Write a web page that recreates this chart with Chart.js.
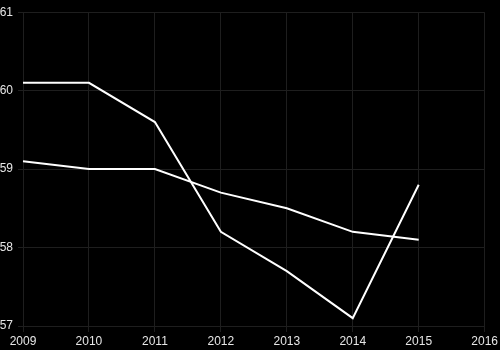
<!DOCTYPE html>
<html>
<head>
<meta charset="utf-8">
<script src="https://cdn.jsdelivr.net/npm/chart.js@4/dist/chart.umd.min.js"></script>
<style>
  html,body{margin:0;padding:0;background:#000;}
  #wrap{width:500px;height:350px;position:relative;}
</style>
</head>
<body>
<div id="wrap"><canvas id="grafico"></canvas></div>
<script>
// dados
const anos=['2009','2010','2011','2012','2013','2014','2015','2016'];
const serieA=[60.1,60.1,59.6,58.2,57.7,57.1,58.8,null];
const serieB=[59.1,59.0,59.0,58.7,58.5,58.2,58.1,null];
const ticksY=[57,58,59,60,61];

Chart.defaults.font.family="'Liberation Sans', Arial, sans-serif";
Chart.defaults.font.size=12;
Chart.defaults.color='#e6e6e6';

const linha=(d)=>({data:d,borderColor:'#ffffff',borderWidth:2,pointRadius:0,tension:0,fill:false,spanGaps:false});

new Chart(document.getElementById('grafico'),{
  type:'line',
  data:{labels:anos,datasets:[linha(serieA),linha(serieB)]},
  options:{
    responsive:true,maintainAspectRatio:false,animation:false,
    layout:{padding:{top:12,right:2,left:0,bottom:0}},
    plugins:{legend:{display:false},tooltip:{enabled:false}},
    scales:{
      x:{offset:false,
        afterFit:s=>{s.height=24;},
        grid:{color:'#1e1e1e',tickLength:6},
        border:{color:'#1e1e1e'},
        ticks:{padding:2,maxRotation:0,autoSkip:false}},
      y:{min:ticksY[0],max:ticksY[ticksY.length-1],
        afterBuildTicks:s=>{s.ticks=ticksY.map(v=>({value:v}));},
        afterFit:s=>{s.width=23;},
        grid:{color:'#1e1e1e',tickLength:5},
        border:{color:'#1e1e1e'},
        ticks:{padding:5}}
    }
  }
});
</script>
</body>
</html>
